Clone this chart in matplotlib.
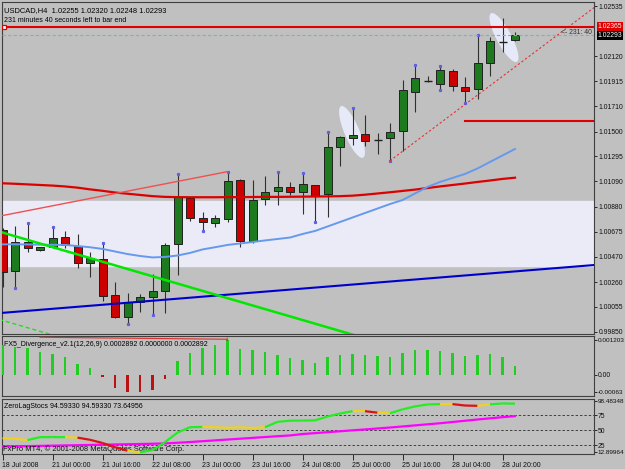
import numpy as np
import matplotlib
matplotlib.use('Agg')
import matplotlib.pyplot as plt

# USDCAD H4 candles (bar 0 = 18 Jul 2008 08:00)
bar_open = [1.00689, 1.00354, 1.00588, 1.00524, 1.00547, 1.00629, 1.00557, 1.00415, 1.00453, 1.00156,
            0.99975, 1.00098, 1.00140, 1.00189, 1.00574, 1.00955, 1.00786, 1.00744, 1.00777, 1.01101,
            1.00599, 1.00942, 1.01011, 1.01041, 1.01002, 1.01060, 1.00983, 1.01376, 1.01450, 1.01480,
            1.01433, 1.01450, 1.01508, 1.01829, 1.01919, 1.01892, 1.02002, 1.01870, 1.01849, 1.02068,
            1.02241, 1.02255]
bar_high = [1.00706, 1.00722, 1.00744, 1.00552, 1.00716, 1.00683, 1.00656, 1.00510, 1.00585, 1.00263,
            1.00168, 1.00162, 1.00327, 1.00585, 1.01151, 1.00962, 1.00835, 1.00813, 1.01170, 1.01107,
            1.01101, 1.01134, 1.01170, 1.01082, 1.01161, 1.01062, 1.01499, 1.01464, 1.01697, 1.01637,
            1.01486, 1.01568, 1.01925, 1.02049, 1.01958, 1.02041, 1.02013, 1.01947, 1.02296, 1.02277,
            1.02434, 1.02320]
bar_low = [1.00222, 1.00214, 1.00510, 1.00520, 1.00538, 1.00538, 1.00374, 1.00299, 1.00107, 0.99965,
           0.99915, 1.00016, 0.99989, 1.00008, 1.00318, 1.00766, 1.00681, 1.00716, 1.00758, 1.00547,
           1.00580, 1.00895, 1.00895, 1.00978, 1.00819, 1.00758, 1.00794, 1.01217, 1.01390, 1.01384,
           1.01313, 1.01260, 1.01343, 1.01664, 1.01911, 1.01843, 1.01837, 1.01733, 1.01766, 1.01958,
           1.02158, 1.02248]
bar_close = [1.00346, 1.00593, 1.00543, 1.00547, 1.00626, 1.00566, 1.00415, 1.00461, 1.00148, 0.99970,
             1.00093, 1.00135, 1.00187, 1.00566, 1.00959, 1.00791, 1.00758, 1.00786, 1.01093, 1.00599,
             1.00936, 1.01005, 1.01041, 1.01005, 1.01066, 1.00972, 1.01376, 1.01458, 1.01475, 1.01423,
             1.01435, 1.01499, 1.01843, 1.01939, 1.01921, 1.02008, 1.01878, 1.01835, 1.02063, 1.02247,
             1.02241, 1.02293]

ma_red = [1.01074, 1.01070, 1.01065, 1.01060, 1.01055, 1.01048, 1.01038, 1.01024, 1.01012, 1.00998,
          1.00988, 1.00978, 1.00968, 1.00962, 1.00960, 1.00959, 1.00959, 1.00959, 1.00960, 1.00960,
          1.00961, 1.00962, 1.00962, 1.00963, 1.00964, 1.00965, 1.00966, 1.00968, 1.00972, 1.00980,
          1.00990, 1.01000, 1.01011, 1.01022, 1.01035, 1.01048, 1.01060, 1.01072, 1.01085, 1.01097,
          1.01110, 1.01120]
ma_blue = [1.00571, 1.00571, 1.00570, 1.00568, 1.00567, 1.00566, 1.00557, 1.00547, 1.00533, 1.00512,
           1.00491, 1.00475, 1.00463, 1.00467, 1.00479, 1.00500, 1.00529, 1.00547, 1.00566, 1.00578,
           1.00590, 1.00603, 1.00615, 1.00627, 1.00656, 1.00681, 1.00718, 1.00755, 1.00792, 1.00829,
           1.00866, 1.00903, 1.00936, 1.00990, 1.01044, 1.01085, 1.01118, 1.01151, 1.01196, 1.01250,
           1.01303, 1.01357]

fractal_up = [2, 4, 8, 14, 18, 22, 24, 26, 28, 33, 35, 38]
fractal_down = [1, 10, 12, 16, 25, 31, 35, 37]

# chart objects
resistance_level = 1.02365
bid_level = 1.02293
target_level = 1.01590
target_start = 37
band_top = 1.00928
band_bottom = 1.00395
line_red_pts = [(-1, 1.00788), (18, 1.01170)]
line_blue_pts = [(-1, 0.99998), (48, 1.00406)]
line_green_pts = [(-1, 1.00698), (30, 0.99767)]
line_green_dash_pts = [(-1, 0.99974), (6, 0.99764)]
line_trend_pts = [(31, 1.01260), (38, 1.01801)]
ellipses = [(27.96, 1.01497, 56, 15, 113), (40.12, 1.02275, 55, 15, 118)]

macd_hist = [0.001025, 0.000965, 0.000943, 0.000788, 0.000707, 0.000611, 0.000378, 0.000237, -0.00010, -0.00048,
             -0.00061, -0.00063, -0.00056, -0.00017, 0.00046, 0.00075, 0.00094, 0.00102, 0.001203, 0.00091,
             0.00085, 0.00078, 0.00067, 0.00058, 0.00050, 0.00042, 0.00060, 0.00068, 0.00072, 0.00070,
             0.00065, 0.00060, 0.00075, 0.00085, 0.00085, 0.00082, 0.00075, 0.00065, 0.00070, 0.00072,
             0.00060, 0.0002892]

stoch_main = [36.5, 35.5, 33.5, 38.3, 38.5, 38.3, 37.5, 33.9, 28.5, 21.5,
              15.5, 12.9, 16.5, 30.0, 46.0, 55.0, 55.5, 55.0, 54.0, 55.0,
              53.7, 55.0, 64.0, 66.0, 66.2, 66.5, 73.0, 78.0, 82.0, 82.0,
              79.5, 78.5, 85.0, 90.0, 93.3, 93.9, 93.9, 91.5, 91.0, 93.5,
              95.0, 94.5933]
stoch_state = ['y', 'y', 'y', 'g', 'g', 'g', 'y', 'r', 'r', 'r',
               'r', 'y', 'g', 'g', 'g', 'g', 'g', 'y', 'y', 'y',
               'y', 'y', 'g', 'g', 'g', 'g', 'g', 'g', 'g', 'y',
               'r', 'y', 'g', 'g', 'g', 'g', 'y', 'r', 'r', 'y',
               'g', 'g']
stoch_signal = [22.8, 23.0, 23.3, 23.6, 24.0, 24.4, 24.8, 25.2, 25.6, 26.0,
                26.4, 26.8, 27.2, 27.8, 28.9, 30.1, 31.5, 32.9, 34.3, 35.7,
                37.1, 38.5, 39.9, 41.2, 43.6, 45.1, 46.7, 48.2, 49.8, 51.3,
                52.9, 54.5, 56.3, 58.1, 59.9, 61.7, 63.8, 65.9, 68.0, 70.0,
                71.9, 73.64956]

time_ticks = [0, 4, 8, 12, 16, 20, 24, 28, 32, 36, 40]
time_labels = ['18 Jul 2008', '21 Jul 00:00', '21 Jul 16:00', '22 Jul 08:00', '23 Jul 00:00',
               '23 Jul 16:00', '24 Jul 08:00', '25 Jul 00:00', '25 Jul 16:00', '28 Jul 04:00',
               '28 Jul 20:00']
price_ticks = [1.02535, 1.02120, 1.01915, 1.01710, 1.01500, 1.01295, 1.01090,
               1.00880, 1.00675, 1.00470, 1.00260, 1.00055, 0.99850]
macd_ticks = [0.001203, 0.0, -0.00063]
macd_labels = ['0.001203', '0.00', '-0.00063']
stoch_ticks = [98.48348, 75, 50, 25, 12.89964]
stoch_labels = ['98.48348', '75', '50', '25', '12.89964']

BG = '#C0C0C0'
FS = 4.9
W, H = 625, 469

plt.rcParams['font.family'] = ['Liberation Sans', 'DejaVu Sans']
fig = plt.figure(figsize=(6.25, 4.69), dpi=100, facecolor=BG)

def box(x0, y0, x1, y1):
    return [x0 / W, 1 - y1 / H, (x1 - x0) / W, (y1 - y0) / H]

ax = fig.add_axes(box(2, 2, 594, 334))
ax2 = fig.add_axes(box(2, 336, 594, 396))
ax3 = fig.add_axes(box(2, 398.5, 594, 454))

XL = (-0.04, 47.32)
for a in (ax, ax2, ax3):
    a.set_facecolor(BG)
    a.set_xlim(*XL)
    a.yaxis.tick_right()
    a.tick_params(axis='y', labelsize=FS, length=2.5, width=0.6, pad=1.0, colors='#101010')
    for s in a.spines.values():
        s.set_color('#404040')
        s.set_linewidth(0.8)
ax.set_xticks([])
ax2.set_xticks([])

# ---------------- main price window
ax.set_ylim(0.99832, 1.02568)
ax.axhspan(band_bottom, band_top, color='#EAEBF6', zorder=0)

n = len(bar_open)
x = np.arange(n)
o = np.array(bar_open); c = np.array(bar_close)
hi = np.array(bar_high); lo = np.array(bar_low)
up = c > o
ax.vlines(x, lo, hi, color='#303030', lw=0.8, zorder=2)
body_lo = np.minimum(o, c)
body_h = np.abs(c - o)
for i in range(n):
    if body_h[i] < 0.00004:
        ax.hlines(o[i], i - 0.32, i + 0.32, color='#202020', lw=1.0, zorder=3)
    else:
        ax.bar(i, body_h[i], bottom=body_lo[i], width=0.64,
               color='#1E7A1E' if up[i] else '#CC0000',
               edgecolor='#202020', linewidth=0.7, zorder=3)

ax.plot(fractal_up, hi[fractal_up], ls='none', marker='s', ms=1.3, color='#6060E0', zorder=4)
ax.plot(fractal_down, lo[fractal_down], ls='none', marker='s', ms=1.3, color='#6060E0', zorder=4)

# white highlight ellipses (sizes in pixels)
px_bar = 592 / (XL[1] - XL[0])
px_price = (1.02568 - 0.99832) / 332
t = np.linspace(0, 2 * np.pi, 80)
for cx, cy, a_len, b_len, ang in ellipses:
    th = np.radians(ang)
    ex = a_len / 2 * np.cos(t) * np.cos(th) - b_len / 2 * np.sin(t) * np.sin(th)
    ey = a_len / 2 * np.cos(t) * np.sin(th) + b_len / 2 * np.sin(t) * np.cos(th)
    ax.fill(cx + ex / px_bar, cy + ey * px_price, color='#E6E9F7', zorder=1.5, lw=0)

def seg(pts, **kw):
    (x0, y0), (x1, y1) = pts
    ax.plot([x0, x1], [y0, y1], **kw)

def ray(pts, x_end, **kw):
    (x0, y0), (x1, y1) = pts
    k = (y1 - y0) / (x1 - x0)
    ax.plot([x0, x_end], [y0, y0 + k * (x_end - x0)], **kw)

ax.plot(x, ma_red, color='#DD0000', lw=1.6, zorder=5)
ax.plot(x, ma_blue, color='#6699EE', lw=1.4, zorder=5)
seg(line_red_pts, color='#F05050', lw=1.0, zorder=5)
seg(line_blue_pts, color='#0000CC', lw=1.5, zorder=5)
seg(line_green_pts, color='#00E800', lw=1.8, zorder=5)
seg(line_green_dash_pts, color='#22DD22', lw=1.0, dashes=(3, 2), zorder=5)
ray(line_trend_pts, 48, color='#E03030', lw=0.8, dashes=(2, 2), zorder=5)
ax.plot([target_start, XL[1]], [target_level, target_level], color='#DD0000', lw=1.5, zorder=5)
ax.axhline(bid_level, color='#7FAFC8', lw=0.8, dashes=(3, 2), zorder=4)
ax.axhline(resistance_level, color='#E00000', lw=1.5, zorder=5)
ax.plot(0.12, resistance_level, marker='s', ms=3.2, mfc='white', mec='#E00000', mew=0.9, zorder=6)

ax.set_yticks(price_ticks)
ax.set_yticklabels(['%.5f' % v for v in price_ticks])

yt = ax.get_yaxis_transform()
ax.text(1.006, resistance_level, '%.5f' % resistance_level, transform=yt, fontsize=FS,
        color='white', va='center', ha='left',
        bbox=dict(boxstyle='square,pad=0.15', fc='#E00000', ec='none'))
ax.text(1.006, bid_level, '%.5f' % bid_level, transform=yt, fontsize=FS,
        color='white', va='center', ha='left',
        bbox=dict(boxstyle='square,pad=0.15', fc='black', ec='none'))
ax.text(0.997, bid_level + 0.00025, '<- 231: 40', transform=yt, fontsize=FS,
        color='#303030', va='center', ha='right')

ax.text(0.004, 0.985, 'USDCAD,H4  1.02255 1.02320 1.02248 1.02293', transform=ax.transAxes,
        fontsize=5.4, va='top', ha='left')
ax.text(0.004, 0.955, '231 minutes 40 seconds left to bar end', transform=ax.transAxes,
        fontsize=5.0, va='top', ha='left')

# ---------------- FX5 divergence window
ax2.set_ylim(-0.000756, 0.001354)
h = np.array(macd_hist)
ax2.bar(x, h, width=0.22, color=np.where(h >= 0, '#22CC22', '#BB1111'), zorder=3)
ax2.plot([3, 18], [0.00131, 0.00124], color='#E03030', lw=0.8, zorder=4)
ax2.text(18, 0.00122, '\u2193', color='#E00000', fontsize=6, ha='center', va='center', zorder=5)
ax2.set_yticks(macd_ticks)
ax2.set_yticklabels(macd_labels)
ax2.text(0.004, 0.86, 'FX5_Divergence_v2.1(12,26,9) 0.0002892 0.0000000 0.0002892',
         transform=ax2.transAxes, fontsize=5.0, va='center', ha='left')

# ---------------- ZeroLag stochastic window
ax3.set_ylim(10.0, 103.3)
for lvl in (75, 50, 25):
    ax3.axhline(lvl, color='#404040', lw=0.7, dashes=(2.5, 2))
ax3.plot(x, stoch_signal, color='#FF00FF', lw=1.6, zorder=3)
cmap = {'y': '#EED21E', 'g': '#22EE22', 'r': '#DD1111'}
for i in range(1, n):
    ax3.plot([i - 1, i], [stoch_main[i - 1], stoch_main[i]], color=cmap[stoch_state[i]],
             lw=1.6, zorder=4, solid_capstyle='butt')
ax3.set_yticks(stoch_ticks)
ax3.set_yticklabels(stoch_labels)
ax3.text(0.004, 0.85, 'ZeroLagStocs 94.59330 94.59330 73.64956', transform=ax3.transAxes,
         fontsize=5.0, va='center', ha='left')
ax3.text(0.002, 0.08, 'FxPro MT4, \u00a9 2001-2008 MetaQuotes Software Corp.', transform=ax3.transAxes,
         fontsize=5.4, va='center', ha='left', color='#101010')
ax3.set_xticks(time_ticks)
ax3.set_xticklabels(time_labels, ha='left')
ax3.tick_params(axis='x', labelsize=5.0, length=4, width=0.6, pad=1.5, colors='#101010')

# long right-hand labels: tighter ticks so they stay inside the picture
for a in (ax2, ax3):
    a.tick_params(axis='y', length=2.0, pad=0.5)
    for lab in a.get_yticklabels():
        if len(lab.get_text()) > 5:
            lab.set_fontsize(4.6)

fig.savefig('out.png', dpi=100, facecolor=BG)
